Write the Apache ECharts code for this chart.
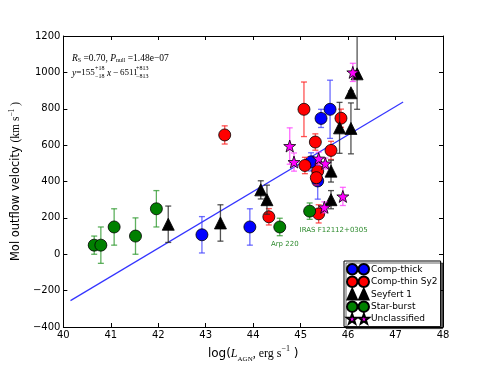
<!DOCTYPE html>
<html>
<head>
<meta charset="utf-8">
<script src="https://cdn.jsdelivr.net/npm/echarts@6/dist/echarts.min.js"></script>
<style>
  html, body { margin: 0; padding: 0; background: #fff; }
  #chart { width: 491px; height: 368px; }
</style>
</head>
<body>
<div id="chart"></div>
<script>
// Comp-thick
const thickX = [42.92, 43.93, 45.43, 45.62, 45.22, 45.36]
const thickY = [107, 150, 747, 797, 508, 403]
const thickErr = [100, 100, 50, 160, 50, 100]
// Comp-thin Sy2
const thinX = [43.40, 44.33, 45.07, 45.09, 45.31, 45.64, 45.85, 45.36, 45.33, 45.38]
const thinY = [656, 206, 797, 488, 617, 571, 748, 457, 421, 222]
const thinErr = [50, 45, 150, 45, 45, 50, 50, 40, 40, 50]
// Seyfert 1
const sy1X = [42.21, 43.31, 44.16, 44.29, 45.82, 46.06, 46.06, 46.19, 45.64, 45.64]
const sy1Y = [165, 172, 354, 300, 695, 692, 888, 992, 457, 300]
const sy1ErrLo = [100, 100, 50, 80, 140, 140, 10, 195, 60, 50]
const sy1ErrHi = [100, 100, 50, 80, 140, 140, 10, 300, 60, 50]
// Star-burst
const sbX = [40.65, 40.79, 41.07, 41.52, 41.96, 44.56, 45.19]
const sbY = [50, 50, 150, 100, 250, 150, 237]
const sbErr = [50, 100, 100, 100, 100, 48, 45]
const sbNotes = ['', '', '', '', '', 'Arp 220', 'IRAS F12112+0305']
// Unclassified
const unX = [44.77, 44.86, 45.38, 45.52, 45.89, 45.50, 46.10]
const unY = [595, 507, 526, 499, 318, 258, 1000]
const unErr = [100, 50, 35, 30, 50, 30, 50]
// fit line
const fitX = [40.15, 47.16]
const fitY = [-255, 837]

const STAR = 'path://M5,0L6.18,3.38L9.76,3.45L6.9,5.62L7.94,9.05L5,7L2.06,9.05L3.1,5.62L0.24,3.45L3.82,3.38Z'
const STAR2 = 'path://M5,0L6.18,3.38L9.76,3.45L6.9,5.62L7.94,9.05L5,7L2.06,9.05L3.1,5.62L0.24,3.45L3.82,3.38Z' +
  'M16,0L17.18,3.38L20.76,3.45L17.9,5.62L18.94,9.05L16,7L13.06,9.05L14.1,5.62L11.24,3.45L14.82,3.38Z'
const CIRC2 = 'path://M0,5A5,5,0,1,1,10,5A5,5,0,1,1,0,5ZM11,5A5,5,0,1,1,21,5A5,5,0,1,1,11,5Z'
const TRI2 = 'path://M4.5,0L9,10L0,10ZM15.5,0L20,10L11,10Z'

function pts(xs, ys) {
  return xs.map((x, i) => [x, ys[i]])
}
function bars(xs, ys, lo, hi) {
  hi = hi || lo
  return xs.map((x, i) => [x, ys[i] - lo[i], ys[i] + hi[i]])
}
function errRender(color) {
  return function (params, api) {
    const x = api.value(0)
    const a = api.coord([x, api.value(2)])
    const b = api.coord([x, api.value(1)])
    const top = params.coordSys.y
    const bot = params.coordSys.y + params.coordSys.height
    const st = { stroke: color, lineWidth: 1.3 }
    const kids = [{ type: 'line', shape: { x1: a[0], y1: Math.max(a[1], top), x2: a[0], y2: Math.min(b[1], bot) }, style: st }]
    if (a[1] >= top) kids.push({ type: 'line', shape: { x1: a[0] - 3, y1: a[1], x2: a[0] + 3, y2: a[1] }, style: st })
    if (b[1] <= bot) kids.push({ type: 'line', shape: { x1: b[0] - 3, y1: b[1], x2: b[0] + 3, y2: b[1] }, style: st })
    return { type: 'group', children: kids }
  }
}
function errSeries(data, color, z) {
  return { type: 'custom', name: 'err', data: data, renderItem: errRender(color), z: z, silent: true }
}
function scatter(name, data, color, symbol, z) {
  return {
    type: 'scatter', name: name, data: data, symbol: symbol, symbolSize: 12, z: z,
    itemStyle: { color: color, borderColor: '#000', borderWidth: 0.8, opacity: 1 }
  }
}

const sbData = pts(sbX, sbY).map((p, i) => {
  if (!sbNotes[i]) return p
  return {
    value: p,
    label: {
      show: true, formatter: sbNotes[i], position: 'inside',
      offset: i === 5 ? [5, 17] : [24, 19.5],
      color: '#2e8b2e', fontSize: 7, fontFamily: 'DejaVu Sans'
    }
  }
})

const chart = echarts.init(document.getElementById('chart'))
const serif = 'Liberation Serif'
const it = { fontFamily: serif, fontStyle: 'italic', fontSize: 9.5, fill: '#000' }
function txt(left, top, text, size, rich) {
  return {
    type: 'text', left: left, top: top, z: 50,
    style: { text: text, fontFamily: serif, fontSize: size, fill: '#000', rich: rich || {} }
  }
}
chart.setOption({
  animation: false,
  backgroundColor: '#fff',
  grid: { left: 62, right: 48, top: 36, bottom: 37 },
  xAxis: [{
    type: 'value', min: 40, max: 48, interval: 1,
    axisLine: { onZero: false, lineStyle: { color: '#000', width: 1 } },
    axisTick: { inside: true, length: 4, lineStyle: { color: '#000' } },
    axisLabel: { color: '#000', fontSize: 10, fontFamily: 'DejaVu Sans', margin: 3 },
    splitLine: { show: false },
    name: '{n|log(}{i|L}{sub|AGN}{s|, erg s}{sup|−1}{n| )}',
    nameLocation: 'middle', nameGap: 18,
    nameTextStyle: {
      rich: {
        n: { fontSize: 12, fontFamily: 'DejaVu Sans', color: '#000', lineHeight: 18 },
        i: { fontSize: 12, fontFamily: serif, fontStyle: 'italic', color: '#000', lineHeight: 18 },
        s: { fontSize: 12, fontFamily: serif, color: '#000', lineHeight: 18 },
        sub: { fontSize: 7, fontFamily: serif, color: '#000', verticalAlign: 'bottom', lineHeight: 18 },
        sup: { fontSize: 8, fontFamily: serif, color: '#000', verticalAlign: 'top', lineHeight: 18 }
      }
    }
  }, {
    type: 'value', min: 40, max: 48, interval: 1, position: 'top',
    axisLine: { show: true, onZero: false, lineStyle: { color: '#000', width: 1 } },
    axisTick: { inside: true, length: 4, lineStyle: { color: '#000' } },
    axisLabel: { show: false }, splitLine: { show: false }
  }],
  yAxis: [{
    type: 'value', min: -400, max: 1200, interval: 200,
    axisLine: { show: true, onZero: false, lineStyle: { color: '#000', width: 1 } },
    axisTick: { show: true, inside: true, length: 4, lineStyle: { color: '#000' } },
    axisLabel: { color: '#000', fontSize: 10, fontFamily: 'DejaVu Sans', margin: 3, formatter: v => String(v).replace('-', '−') },
    splitLine: { show: false },
    name: '{n|Mol outflow velocity }{s|(km s}{sup|−1}{s| )}',
    nameLocation: 'middle', nameGap: 32, nameRotate: 90,
    nameTextStyle: {
      rich: {
        n: { fontSize: 11.5, fontFamily: 'DejaVu Sans', color: '#000', lineHeight: 16 },
        s: { fontSize: 11.5, fontFamily: serif, color: '#000', lineHeight: 16 },
        sup: { fontSize: 7.5, fontFamily: serif, color: '#000', verticalAlign: 'top', lineHeight: 16 }
      }
    }
  }, {
    type: 'value', min: -400, max: 1200, interval: 200, position: 'right',
    axisLine: { show: true, onZero: false, lineStyle: { color: '#000', width: 1 } },
    axisTick: { show: true, inside: true, length: 4, lineStyle: { color: '#000' } },
    axisLabel: { show: false }, splitLine: { show: false }
  }],
  legend: {
    orient: 'vertical', left: 344, top: 261,
    itemWidth: 22, itemHeight: 10.5, itemGap: 0,
    padding: [2, 3, 2, 2],
    backgroundColor: '#fff', borderColor: '#000', borderWidth: 1, borderRadius: 0,
    shadowColor: 'rgba(0,0,0,0.6)', shadowOffsetX: 2, shadowOffsetY: 2, shadowBlur: 0,
    textStyle: { color: '#000', fontSize: 9, fontFamily: 'DejaVu Sans', padding: [0, 0, 0, -3] },
    data: [
      { name: 'Comp-thick', icon: CIRC2 },
      { name: 'Comp-thin Sy2', icon: CIRC2 },
      { name: 'Seyfert 1', icon: TRI2 },
      { name: 'Star-burst', icon: CIRC2 },
      { name: 'Unclassified', icon: STAR2 }
    ]
  },
  graphic: [
    txt(72, 53, '{i|R}{sub|S} =0.70, {i|P}{sub|null} =1.48e−07', 9.5, {
      i: it,
      sub: { fontFamily: serif, fontSize: 6, fill: '#000', padding: [5, 0, 0, 0] }
    }),
    txt(72, 68, '{i|y}=155', 9, { i: it }),
    txt(95, 65, '+18', 6),
    txt(95, 73, '−18', 6),
    txt(107, 68, '{i|x}', 9.5, { i: it }),
    txt(113, 68, '−', 9.5),
    txt(120, 68, '6511', 9),
    txt(136, 65, '+813', 6),
    txt(136, 73, '−813', 6)
  ],
  series: [
    {
      type: 'line', name: 'fit', data: pts(fitX, fitY), showSymbol: false, symbol: 'none', z: 1,
      lineStyle: { color: 'rgba(30,30,255,0.9)', width: 1.2 }, silent: true
    },
    errSeries(bars(thickX, thickY, thickErr), 'rgba(60,60,255,0.75)', 2),
    scatter('Comp-thick', pts(thickX, thickY), '#0000ff', 'circle', 3),
    errSeries(bars(thinX, thinY, thinErr), 'rgba(255,40,40,0.8)', 4),
    scatter('Comp-thin Sy2', pts(thinX, thinY), '#ff0000', 'circle', 5),
    errSeries(bars(sy1X, sy1Y, sy1ErrLo, sy1ErrHi), 'rgba(40,40,40,0.8)', 6),
    scatter('Seyfert 1', pts(sy1X, sy1Y), '#000000', 'triangle', 7),
    errSeries(bars(sbX, sbY, sbErr), 'rgba(40,150,40,0.75)', 8),
    scatter('Star-burst', sbData, '#008000', 'circle', 9),
    errSeries(bars(unX, unY, unErr), 'rgba(255,60,255,0.75)', 10),
    scatter('Unclassified', pts(unX, unY), '#ff00ff', STAR, 11)
  ]
})
</script>
</body>
</html>
